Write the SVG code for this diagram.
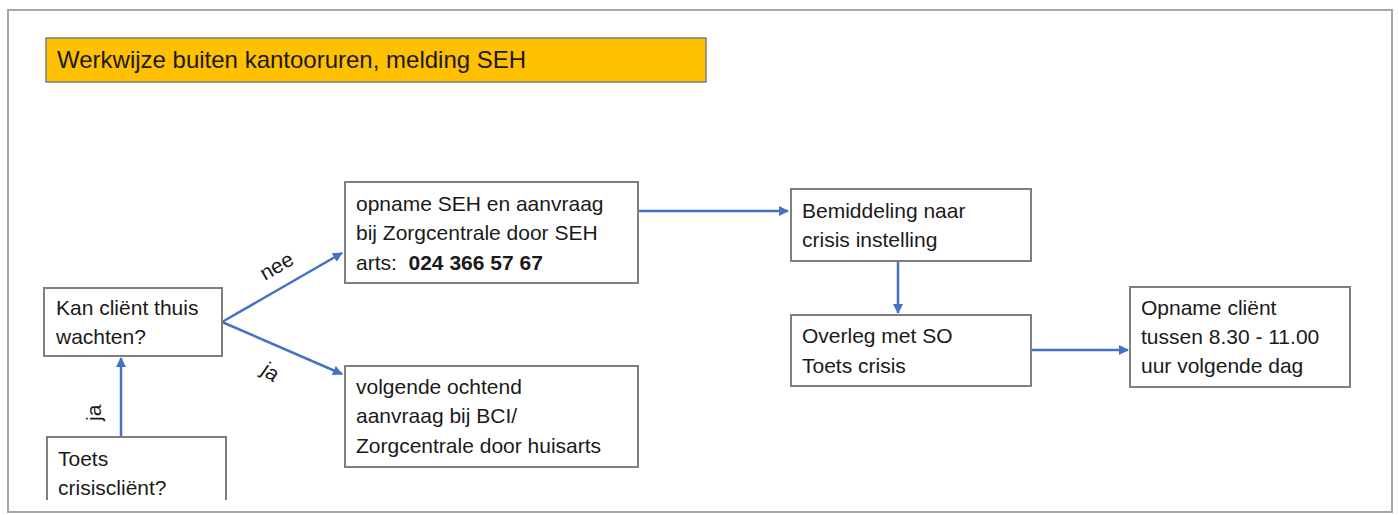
<svg xmlns="http://www.w3.org/2000/svg" width="1399" height="515" viewBox="0 0 1399 515">
<defs>
<style>
.box{fill:#fff;stroke:#7f7f7f;stroke-width:2}
.t{font-family:"Liberation Sans",Arial,sans-serif;font-size:21px;fill:#1a1a1a}
.c{stroke:#4472c4;stroke-width:2.5;fill:none;marker-end:url(#ah)}
</style>
<marker id="ah" viewBox="0 0 10 10" refX="9" refY="5" markerWidth="4" markerHeight="4" orient="auto" markerUnits="strokeWidth">
<path d="M0,0 L10,5 L0,10 z" fill="#4472c4"/>
</marker>
</defs>
<rect width="1399" height="515" fill="#fff"/>
<rect x="8" y="10" width="1384" height="502" fill="#fff" stroke="#a6a6a6" stroke-width="2"/>
<g id="title">
<rect x="46" y="38" width="660" height="44" fill="#ffc000" stroke="#7f7f7f" stroke-width="1.5"/>
<text class="t" x="57" y="68" style="font-size:24px">Werkwijze buiten kantooruren, melding SEH</text>
</g>
<g id="connectors">
<line class="c" x1="121" y1="437" x2="121" y2="358"/>
<line class="c" x1="222" y1="322" x2="342" y2="253"/>
<line class="c" x1="222" y1="322" x2="342" y2="374"/>
<line class="c" x1="638" y1="211" x2="788" y2="211"/>
<line class="c" x1="898" y1="261" x2="898" y2="313"/>
<line class="c" x1="1031" y1="350" x2="1128" y2="350"/>
<text class="t" transform="translate(101,421) rotate(-90)">ja</text>
<text class="t" transform="translate(265,281) rotate(-30)">nee</text>
<text class="t" transform="translate(260,373) rotate(35)">ja</text>
</g>
<g id="kan">
<rect class="box" x="44" y="288" width="178" height="68"/>
<text class="t" x="56" y="315">Kan cliënt thuis</text>
<text class="t" x="56" y="344">wachten?</text>
</g>
<g id="toets">
<path class="box" d="M47,500 V437 H226 V500"/>
<text class="t" x="58" y="466">Toets</text>
<text class="t" x="58" y="495">crisiscliënt?</text>
</g>
<g id="opname-seh">
<rect class="box" x="345" y="182" width="293" height="101"/>
<text class="t" x="356" y="211">opname SEH en aanvraag</text>
<text class="t" x="356" y="240">bij Zorgcentrale door SEH</text>
<text class="t" x="356" y="270">arts:&#160; <tspan font-weight="bold">024 366 57 67</tspan></text>
</g>
<g id="volgende">
<rect class="box" x="345" y="366" width="293" height="101"/>
<text class="t" x="356" y="394">volgende ochtend</text>
<text class="t" x="356" y="423">aanvraag bij BCI/</text>
<text class="t" x="356" y="453">Zorgcentrale door huisarts</text>
</g>
<g id="bemiddeling">
<rect class="box" x="791" y="189" width="240" height="72"/>
<text class="t" x="802" y="218">Bemiddeling naar</text>
<text class="t" x="802" y="247">crisis instelling</text>
</g>
<g id="overleg">
<rect class="box" x="791" y="315" width="240" height="71"/>
<text class="t" x="802" y="343">Overleg met SO</text>
<text class="t" x="802" y="373">Toets crisis</text>
</g>
<g id="opname-client">
<rect class="box" x="1130" y="287" width="220" height="100"/>
<text class="t" x="1141" y="315">Opname cliënt</text>
<text class="t" x="1141" y="344">tussen 8.30 - 11.00</text>
<text class="t" x="1141" y="373">uur volgende dag</text>
</g>
</svg>
